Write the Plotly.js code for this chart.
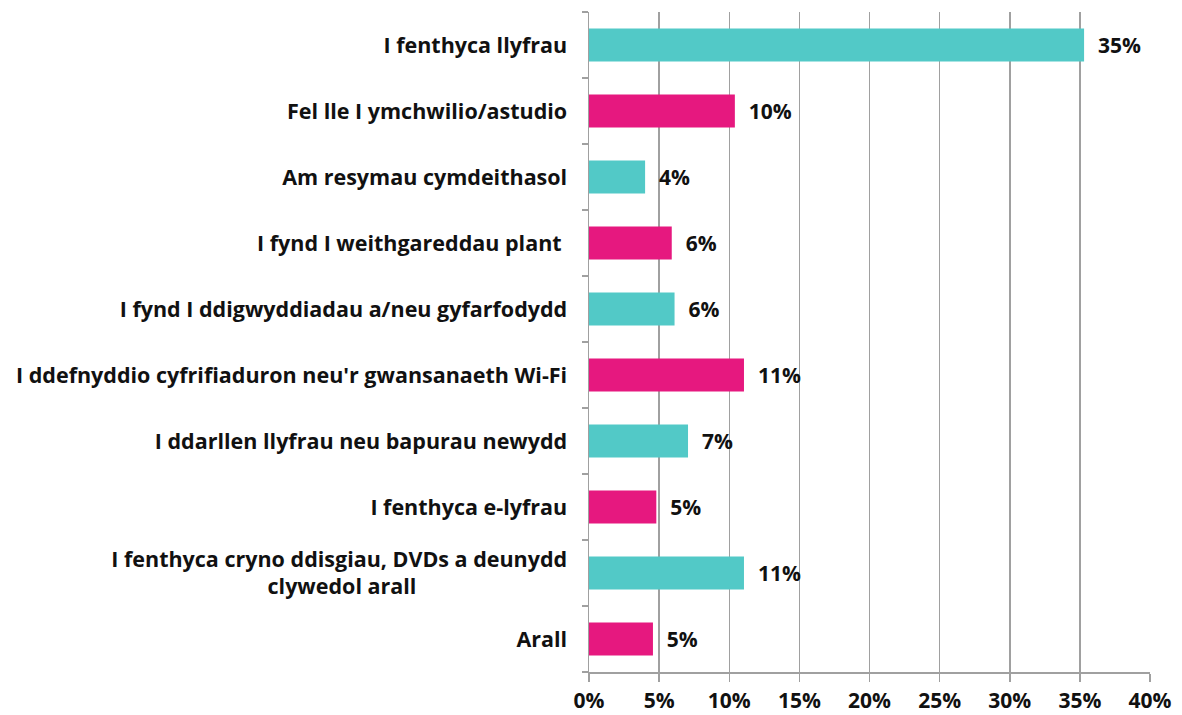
<!DOCTYPE html>
<html>
<head>
<meta charset="utf-8">
<script src="https://cdn.plot.ly/plotly-3.0.1.min.js"></script>
<style>html,body{margin:0;padding:0;background:#fff;}#chart{width:1182px;height:715px;}</style>
</head>
<body>
<div id="chart"></div>
<script>
const categories = [
  "I fenthyca llyfrau",
  "Fel lle I ymchwilio/astudio",
  "Am resymau cymdeithasol",
  "I fynd I weithgareddau plant ",
  "I fynd I ddigwyddiadau a/neu gyfarfodydd",
  "I ddefnyddio cyfrifiaduron neu'r gwansanaeth Wi-Fi",
  "I ddarllen llyfrau neu bapurau newydd",
  "I fenthyca e-lyfrau",
  "I fenthyca cryno ddisgiau, DVDs a deunydd<br>clywedol arall" ,
  "Arall"
];
const values = [35.3, 10.4, 4.0, 5.9, 6.1, 11.05, 7.06, 4.8, 11.05, 4.56];
const xTickVals = [0, 5, 10, 15, 20, 25, 30, 35, 40];
const xTickText = ["0%", "5%", "10%", "15%", "20%", "25%", "30%", "35%", "40%"];

const TEAL = "#52C9C7", PINK = "#E6187F";
const colors = categories.map((c, i) => i % 2 === 0 ? TEAL : PINK);

// centre the second line of the wrapped label under the first
const tickText = categories.map(c => c.includes("<br>") ? c + "\u00A0".repeat(27) : c);

const font = "'Open Sans', sans-serif";
const trace = {
  type: "bar",
  orientation: "h",
  y: categories,
  x: values,
  width: 0.5,
  marker: {color: colors},
  texttemplate: "\u00A0\u00A0%{x:.0f}%",
  textposition: "outside",
  cliponaxis: false,
  textfont: {family: font, size: 21, color: "#111", weight: 700},
  hoverinfo: "skip"
};

const layout = {
  width: 1182, height: 715,
  margin: {l: 589, r: 32, t: 12, b: 43},
  paper_bgcolor: "#fff", plot_bgcolor: "#fff",
  showlegend: false,
  xaxis: {
    range: [0, 40],
    tickvals: xTickVals, ticktext: xTickText,
    showgrid: true, gridcolor: "#A0A0A0", gridwidth: 1.5,
    showline: true, linecolor: "#A0A0A0", linewidth: 1.5,
    ticks: "outside", ticklen: 8, tickcolor: "#A0A0A0", tickwidth: 1.5,
    ticklabelstandoff: 1,
    tickfont: {family: font, size: 21, color: "#111", weight: 700},
    zeroline: false, fixedrange: true
  },
  yaxis: {
    type: "category",
    autorange: "reversed",
    tickvals: categories, ticktext: tickText,
    showline: true, linecolor: "#A0A0A0", linewidth: 1.5,
    ticks: "outside", ticklen: 6, tickcolor: "#A0A0A0", tickwidth: 1.5,
    tickson: "boundaries",
    ticklabelstandoff: 16,
    tickfont: {family: font, size: 21.5, color: "#111", weight: 700},
    showgrid: false, zeroline: false, fixedrange: true
  },
  bargap: 0.5
};

Plotly.newPlot("chart", [trace], layout, {displayModeBar: false, staticPlot: true});
</script>
</body>
</html>
